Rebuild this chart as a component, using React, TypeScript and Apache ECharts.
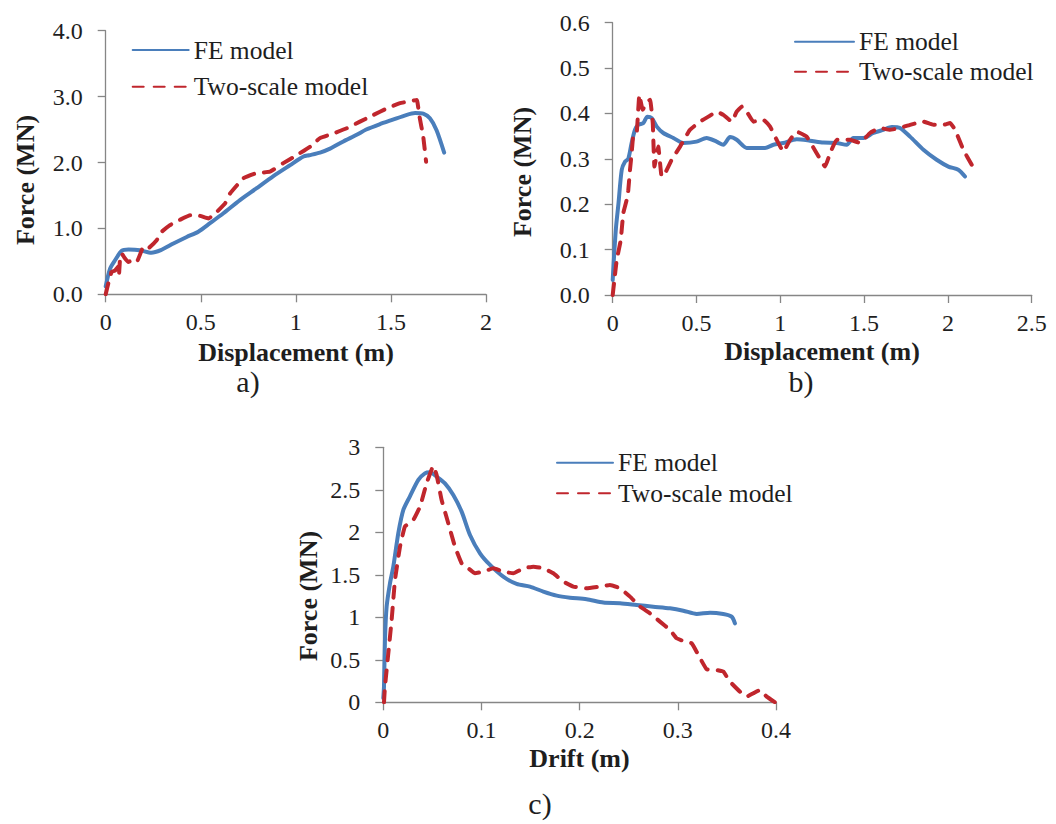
import React, { useEffect, useRef } from "react";
import * as echarts from "echarts";

// Panel a) force–displacement
const aFE: number[][] = [
  [0, 0.12], [0.023, 0.39], [0.05, 0.52], [0.084, 0.66], [0.12, 0.68], [0.18, 0.67],
  [0.24, 0.63], [0.29, 0.67], [0.356, 0.77], [0.426, 0.87], [0.487, 0.95], [0.549, 1.08],
  [0.619, 1.23], [0.706, 1.43], [0.794, 1.61], [0.88, 1.79], [0.97, 1.96], [1.04, 2.09],
  [1.07, 2.11], [1.127, 2.15], [1.18, 2.21], [1.25, 2.32], [1.32, 2.42], [1.37, 2.5],
  [1.44, 2.58], [1.51, 2.65], [1.58, 2.72], [1.627, 2.75], [1.67, 2.74], [1.705, 2.67],
  [1.74, 2.49], [1.78, 2.15],
];
const aTwoScale: number[][] = [
  [0, 0], [0.014, 0.17], [0.023, 0.22], [0.03, 0.34], [0.049, 0.36], [0.066, 0.42],
  [0.07, 0.3], [0.075, 0.52], [0.084, 0.62], [0.1, 0.55], [0.119, 0.49], [0.14, 0.52],
  [0.163, 0.49], [0.18, 0.6], [0.198, 0.72], [0.224, 0.7], [0.268, 0.82], [0.295, 0.95],
  [0.338, 1.05], [0.39, 1.13], [0.444, 1.2], [0.496, 1.19], [0.54, 1.15], [0.584, 1.25],
  [0.628, 1.38], [0.654, 1.53], [0.724, 1.76], [0.794, 1.84], [0.864, 1.86], [0.934, 1.99],
  [1.004, 2.11], [1.075, 2.24], [1.127, 2.37], [1.197, 2.44], [1.268, 2.52], [1.337, 2.62],
  [1.407, 2.72], [1.478, 2.82], [1.548, 2.9], [1.6, 2.93], [1.636, 2.95], [1.65, 2.7],
  [1.67, 2.39], [1.685, 2.01],
];

// Panel b) force–displacement
const bFE: number[][] = [
  [0, 0.033], [0.008, 0.085], [0.02, 0.15], [0.034, 0.2], [0.054, 0.276], [0.074, 0.294],
  [0.093, 0.3], [0.113, 0.335], [0.133, 0.364], [0.153, 0.375], [0.183, 0.379], [0.207, 0.393],
  [0.233, 0.39], [0.263, 0.371], [0.302, 0.357], [0.362, 0.346], [0.42, 0.335], [0.5, 0.338],
  [0.56, 0.346], [0.62, 0.338], [0.66, 0.331], [0.7, 0.348], [0.74, 0.342], [0.8, 0.324],
  [0.859, 0.324], [0.909, 0.324], [0.959, 0.331], [1.018, 0.335], [1.098, 0.343], [1.177, 0.34],
  [1.257, 0.336], [1.337, 0.335], [1.396, 0.331], [1.436, 0.346], [1.496, 0.346], [1.555, 0.357],
  [1.615, 0.364], [1.665, 0.37], [1.714, 0.368], [1.774, 0.349], [1.854, 0.32], [1.933, 0.298],
  [2.003, 0.283], [2.062, 0.276], [2.102, 0.261],
];
const bTwoScale: number[][] = [
  [0, 0], [0.008, 0.026], [0.024, 0.077], [0.048, 0.121], [0.063, 0.18], [0.083, 0.209],
  [0.093, 0.231], [0.103, 0.275], [0.113, 0.312], [0.123, 0.352], [0.143, 0.356], [0.159, 0.441],
  [0.179, 0.408], [0.203, 0.426], [0.223, 0.43], [0.239, 0.379], [0.249, 0.283], [0.272, 0.327],
  [0.292, 0.261], [0.312, 0.268], [0.352, 0.298], [0.402, 0.327], [0.461, 0.364], [0.521, 0.382],
  [0.571, 0.393], [0.621, 0.404], [0.66, 0.397], [0.71, 0.382], [0.74, 0.404], [0.77, 0.415],
  [0.8, 0.404], [0.839, 0.382], [0.899, 0.386], [0.939, 0.371], [0.978, 0.342], [1.018, 0.316],
  [1.058, 0.342], [1.098, 0.36], [1.157, 0.349], [1.217, 0.3125], [1.267, 0.283], [1.297, 0.3125],
  [1.337, 0.342], [1.416, 0.342], [1.476, 0.335], [1.535, 0.357], [1.595, 0.368], [1.654, 0.364],
  [1.714, 0.368], [1.774, 0.375], [1.854, 0.382], [1.913, 0.375], [1.973, 0.375], [2.013, 0.379],
  [2.043, 0.364], [2.092, 0.32], [2.142, 0.287],
];

// Panel c) force–drift
const cFE: number[][] = [
  [0, 0.05], [0.0007, 0.184], [0.0017, 0.733], [0.0034, 1.125], [0.0068, 1.4], [0.0102, 1.596],
  [0.0153, 1.99], [0.0204, 2.263], [0.027, 2.42], [0.0357, 2.616], [0.0424, 2.694],
  [0.0475, 2.706], [0.0543, 2.655], [0.0628, 2.576], [0.0713, 2.439], [0.0798, 2.243],
  [0.0883, 1.969], [0.0985, 1.753], [0.1087, 1.616], [0.1222, 1.478], [0.1358, 1.392],
  [0.1494, 1.361], [0.163, 1.302], [0.1766, 1.255], [0.1902, 1.231], [0.2071, 1.212],
  [0.2241, 1.173], [0.2411, 1.165], [0.258, 1.145], [0.275, 1.125], [0.292, 1.106],
  [0.3056, 1.078], [0.3192, 1.039], [0.3328, 1.055], [0.3463, 1.039], [0.3548, 1.008],
  [0.3582, 0.929],
];
const cTwoScale: number[][] = [
  [0.0007, 0], [0.0017, 0.184], [0.0051, 0.576], [0.0085, 0.969], [0.0119, 1.439], [0.017, 1.831],
  [0.022, 2.067], [0.0306, 2.145], [0.0374, 2.302], [0.0441, 2.576], [0.0509, 2.78],
  [0.0543, 2.675], [0.0594, 2.38], [0.0662, 2.106], [0.073, 1.831], [0.0798, 1.635],
  [0.0866, 1.576], [0.0934, 1.518], [0.1019, 1.537], [0.112, 1.576], [0.1222, 1.537],
  [0.1324, 1.518], [0.1426, 1.576], [0.1528, 1.596], [0.163, 1.576], [0.1732, 1.518],
  [0.1834, 1.42], [0.1936, 1.361], [0.2071, 1.341], [0.2207, 1.361], [0.2309, 1.38],
  [0.2411, 1.341], [0.2513, 1.243], [0.2615, 1.125], [0.2716, 1.047], [0.2818, 0.949],
  [0.292, 0.851], [0.2988, 0.753], [0.3056, 0.722], [0.3141, 0.694], [0.3209, 0.557],
  [0.3294, 0.388], [0.3396, 0.38], [0.3463, 0.361], [0.3531, 0.243], [0.3633, 0.125],
  [0.3701, 0.067], [0.3769, 0.106], [0.3837, 0.145], [0.3905, 0.067], [0.399, 0],
];

// Tick labels
const aXTicks = ["0", "0.5", "1", "1.5", "2"];
const aYTicks = ["0.0", "1.0", "2.0", "3.0", "4.0"];
const bXTicks = ["0", "0.5", "1", "1.5", "2", "2.5"];
const bYTicks = ["0.0", "0.1", "0.2", "0.3", "0.4", "0.5", "0.6"];
const cXTicks = ["0", "0.1", "0.2", "0.3", "0.4"];
const cYTicks = ["0", "0.5", "1", "1.5", "2", "2.5", "3"];

const SERIES_FE = "FE model";
const SERIES_TS = "Two-scale model";

const FONT = "Liberation Serif, Times New Roman, serif";
const AXIS_GRAY = "#868686";
const TEXT = "#1e1e1e";
const BLUE = "#4a7ebb";
const RED = "#c0262d";

function App() {
  const ref = useRef<HTMLDivElement>(null);

  useEffect(() => {
    if (!ref.current) return;
    const chart = echarts.init(ref.current, undefined, { renderer: "svg" });

    const valueAxis = (
      gridIndex: number,
      max: number,
      interval: number,
      ticks: string[],
      isX: boolean
    ) => ({
      type: "value" as const,
      gridIndex,
      min: 0,
      max,
      interval,
      splitLine: { show: false },
      axisLine: { show: true, onZero: false, lineStyle: { color: AXIS_GRAY, width: 1.3 } },
      axisTick: { show: true, inside: false, length: 8, lineStyle: { color: AXIS_GRAY, width: 1.3 } },
      axisLabel: {
        color: TEXT,
        fontFamily: FONT,
        fontSize: 24,
        margin: isX ? 16 : 23,
        showMaxLabel: true,
        showMinLabel: true,
        formatter: (v: number) => ticks[Math.round(v / interval)] ?? "",
      },
    });

    const feLine = (xi: number, data: number[][]) => ({
      name: SERIES_FE,
      type: "line" as const,
      xAxisIndex: xi,
      yAxisIndex: xi,
      data,
      showSymbol: false,
      symbol: "none",
      smooth: 0.25,
      lineStyle: { color: BLUE, width: 4, cap: "round", join: "round" },
      itemStyle: { color: BLUE },
      z: 2,
    });

    const tsLine = (xi: number, data: number[][]) => ({
      name: SERIES_TS,
      type: "line" as const,
      xAxisIndex: xi,
      yAxisIndex: xi,
      data,
      showSymbol: false,
      symbol: "none",
      smooth: 0.1,
      lineStyle: { color: RED, width: 4, type: [11, 10], cap: "round", join: "round" },
      itemStyle: { color: RED },
      z: 3,
    });

    const legend = (left: number, top: number, gap: number, width: number) => ({
      data: [SERIES_FE, SERIES_TS],
      orient: "vertical" as const,
      left,
      top,
      padding: 0,
      itemGap: gap,
      itemWidth: width,
      itemHeight: 14,
      selectedMode: false,
      itemStyle: { opacity: 0 },
      textStyle: { fontFamily: FONT, fontSize: 25.5, color: TEXT, lineHeight: 28 },
    });

    const titleText = (x: number, y: number, text: string, vertical: boolean) => ({
      type: "text" as const,
      x,
      y,
      rotation: vertical ? Math.PI / 2 : 0,
      style: {
        text,
        fontFamily: FONT,
        fontSize: 26,
        lineHeight: 22,
        fontWeight: "bold" as const,
        fill: TEXT,
        align: "center" as const,
        verticalAlign: "middle" as const,
      },
    });

    const panelLabel = (x: number, y: number, text: string) => ({
      type: "text" as const,
      x,
      y,
      style: {
        text,
        fontFamily: FONT,
        fontSize: 30,
        lineHeight: 26,
        fill: TEXT,
        align: "center" as const,
        verticalAlign: "middle" as const,
      },
    });

    chart.setOption({
      animation: false,
      backgroundColor: "#ffffff",
      textStyle: { fontFamily: FONT },
      grid: [
        { left: 105.7, top: 30.7, width: 380.3, height: 263.6 },
        { left: 612.7, top: 22.7, width: 419, height: 272.3 },
        { left: 383.3, top: 447.3, width: 392.7, height: 255 },
      ],
      xAxis: [
        valueAxis(0, 2, 0.5, aXTicks, true),
        valueAxis(1, 2.5, 0.5, bXTicks, true),
        valueAxis(2, 0.4, 0.1, cXTicks, true),
      ],
      yAxis: [
        valueAxis(0, 4, 1, aYTicks, false),
        valueAxis(1, 0.6, 0.1, bYTicks, false),
        valueAxis(2, 3, 0.5, cYTicks, false),
      ],
      legend: [
        legend(131.7, 36, 8.7, 56),
        legend(794, 27.7, 2, 59),
        legend(556, 448.7, 2.6, 56),
      ],
      series: [
        feLine(0, aFE),
        tsLine(0, aTwoScale),
        feLine(1, bFE),
        tsLine(1, bTwoScale),
        feLine(2, cFE),
        tsLine(2, cTwoScale),
      ],
      graphic: [
        titleText(296, 352, "Displacement (m)", false),
        titleText(822, 351, "Displacement (m)", false),
        titleText(579.5, 758, "Drift (m)", false),
        titleText(25, 180, "Force (MN)", true),
        titleText(522, 172, "Force (MN)", true),
        titleText(308, 596, "Force (MN)", true),
        panelLabel(248, 381, "a)"),
        panelLabel(801, 381, "b)"),
        panelLabel(540, 803, "c)"),
      ],
    });

    return () => {
      chart.dispose();
    };
  }, []);

  return (
    <div
      ref={ref}
      style={{ position: "absolute", left: 0, top: 0, width: 1056, height: 824, background: "#fff" }}
    />
  );
}

export default App;
